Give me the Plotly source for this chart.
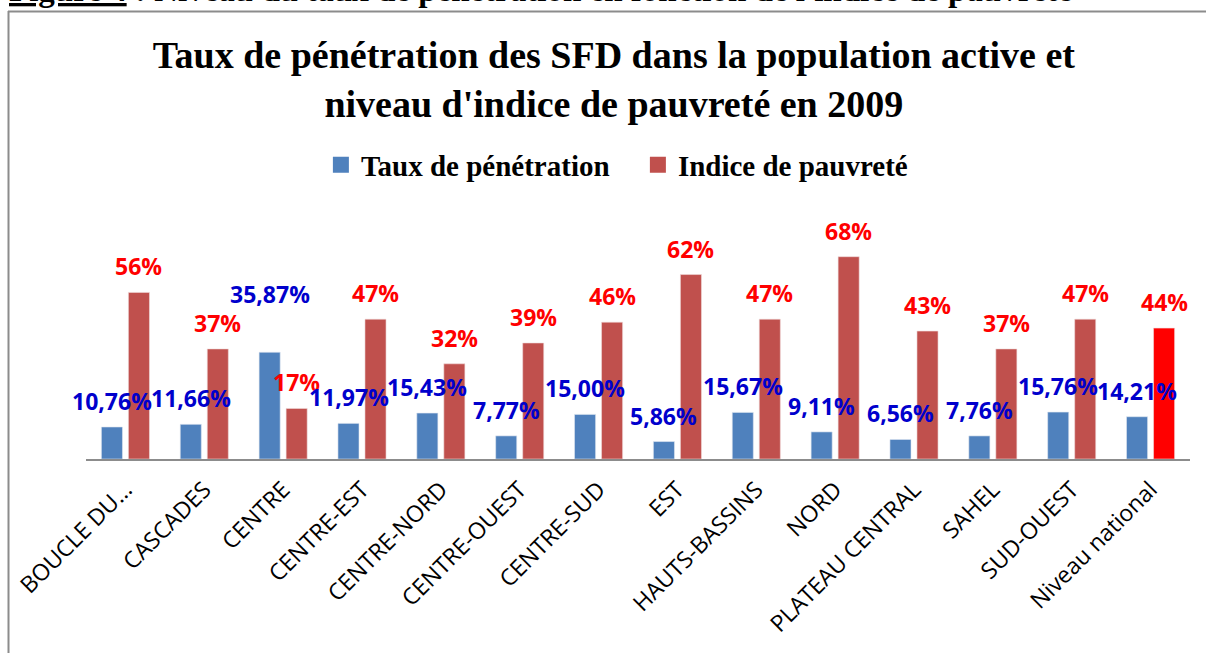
import plotly.graph_objects as go

categories = ["BOUCLE DU...", "CASCADES", "CENTRE", "CENTRE-EST", "CENTRE-NORD", "CENTRE-OUEST",
              "CENTRE-SUD", "EST", "HAUTS-BASSINS", "NORD", "PLATEAU CENTRAL", "SAHEL",
              "SUD-OUEST", "Niveau national"]
taux_penetration = [10.76, 11.66, 35.87, 11.97, 15.43, 7.77, 15.00, 5.86, 15.67, 9.11, 6.56, 7.76, 15.76, 14.21]
indice_pauvrete = [56, 37, 17, 47, 32, 39, 46, 62, 47, 68, 43, 37, 47, 44]
taux_labels = ["10,76%", "11,66%", "35,87%", "11,97%", "15,43%", "7,77%", "15,00%", "5,86%",
               "15,67%", "9,11%", "6,56%", "7,76%", "15,76%", "14,21%"]
pauvrete_labels = [f"{v}%" for v in indice_pauvrete]

BLUE = "#4F81BD"
RED = "#C0504D"
red_colors = [RED] * (len(categories) - 1) + ["#FF0000"]

W, H = 1206, 653
L, R, T, B = 86, 16, 221, 194
PW, PH = W - L - R, H - T - B

def px_x(x):
    return (x - L) / PW

def px_y(y):
    return 1 + (T - y) / PH

fig = go.Figure()
fig.add_trace(go.Bar(x=categories, y=taux_penetration, name="Taux de pénétration", showlegend=False,
                     marker=dict(color=BLUE, line=dict(color="#dfe6f0", width=0.6))))
fig.add_trace(go.Bar(x=categories, y=indice_pauvrete, name="Indice de pauvreté", showlegend=False,
                     marker=dict(color=red_colors, line=dict(color="#f0dcdc", width=0.6))))
# legend entries with larger square swatches
fig.add_trace(go.Scatter(x=[None], y=[None], mode="markers", name="Taux de pénétration",
                         marker=dict(symbol="square", size=16, color=BLUE)))
fig.add_trace(go.Scatter(x=[None], y=[None], mode="markers", name="Indice de pauvreté",
                         marker=dict(symbol="square", size=16, color=RED)))

annotations = []
for i, c in enumerate(categories):
    shift = 49 if c == "CENTRE" else 17
    annotations.append(dict(x=c, y=taux_penetration[i], xref="x", yref="y", text=taux_labels[i],
                            showarrow=False, yanchor="bottom", xshift=-13.5, yshift=shift - 9,
                            font=dict(family="Open Sans", size=23, color="#0000CC", weight="bold")))
    annotations.append(dict(x=c, y=indice_pauvrete[i], xref="x", yref="y", text=pauvrete_labels[i],
                            showarrow=False, yanchor="bottom", xshift=13.5, yshift=17 - 9,
                            font=dict(family="Open Sans", size=23, color="#FF0000", weight="bold")))

annotations.append(dict(x=px_x(7), y=px_y(10), xref="paper", yref="paper", xanchor="left", yanchor="bottom",
                        showarrow=False,
                        text="<b><u>Figure 4</u> : Niveau du taux de pénétration en fonction de l'indice de pauvreté</b>",
                        font=dict(family="Liberation Serif", size=33, color="black")))

fig.update_layout(
    width=W, height=H,
    margin=dict(l=L, r=R, t=T, b=B, autoexpand=False),
    paper_bgcolor="white", plot_bgcolor="white",
    barmode="group", bargap=0.315, bargroupgap=0.22,
    title=dict(text="<b>Taux de pénétration des SFD dans la population active et<br>niveau d'indice de pauvreté en 2009</b>",
               x=0.509, xanchor="center", y=1 - 68 / H, yanchor="top", yref="container",
               font=dict(family="Liberation Serif", size=38, color="black")),
    legend=dict(orientation="h", x=0.4999, xanchor="center", y=px_y(165), yanchor="middle",
                font=dict(family="Liberation Serif", size=29, color="black", weight="bold"),
                traceorder="normal", entrywidth=272),
    xaxis=dict(tickangle=-45, showline=True, linecolor="#8c8c8c", linewidth=2, automargin=False,
               range=[-0.5, len(categories) - 0.5],
               tickfont=dict(family="Open Sans", size=23, color="black"), ticks="", showgrid=False,
               ticklabelshift=0, ticklabelstandoff=6),
    yaxis=dict(range=[0, 80], visible=False, showgrid=False, automargin=False),
    annotations=annotations,
    shapes=[
        dict(type="line", xref="paper", yref="paper", x0=px_x(8.5), x1=px_x(8.5), y0=px_y(11), y1=px_y(660),
             line=dict(color="#8c8c8c", width=2)),
        dict(type="line", xref="paper", yref="paper", x0=px_x(8), x1=px_x(1210), y0=px_y(11.5), y1=px_y(11.5),
             line=dict(color="#8c8c8c", width=2)),
    ],
    showlegend=True,
)

fig.write_html("out.html", config={"displayModeBar": False},
               post_script="document.body.style.margin='0';document.body.style.overflow='hidden';")
